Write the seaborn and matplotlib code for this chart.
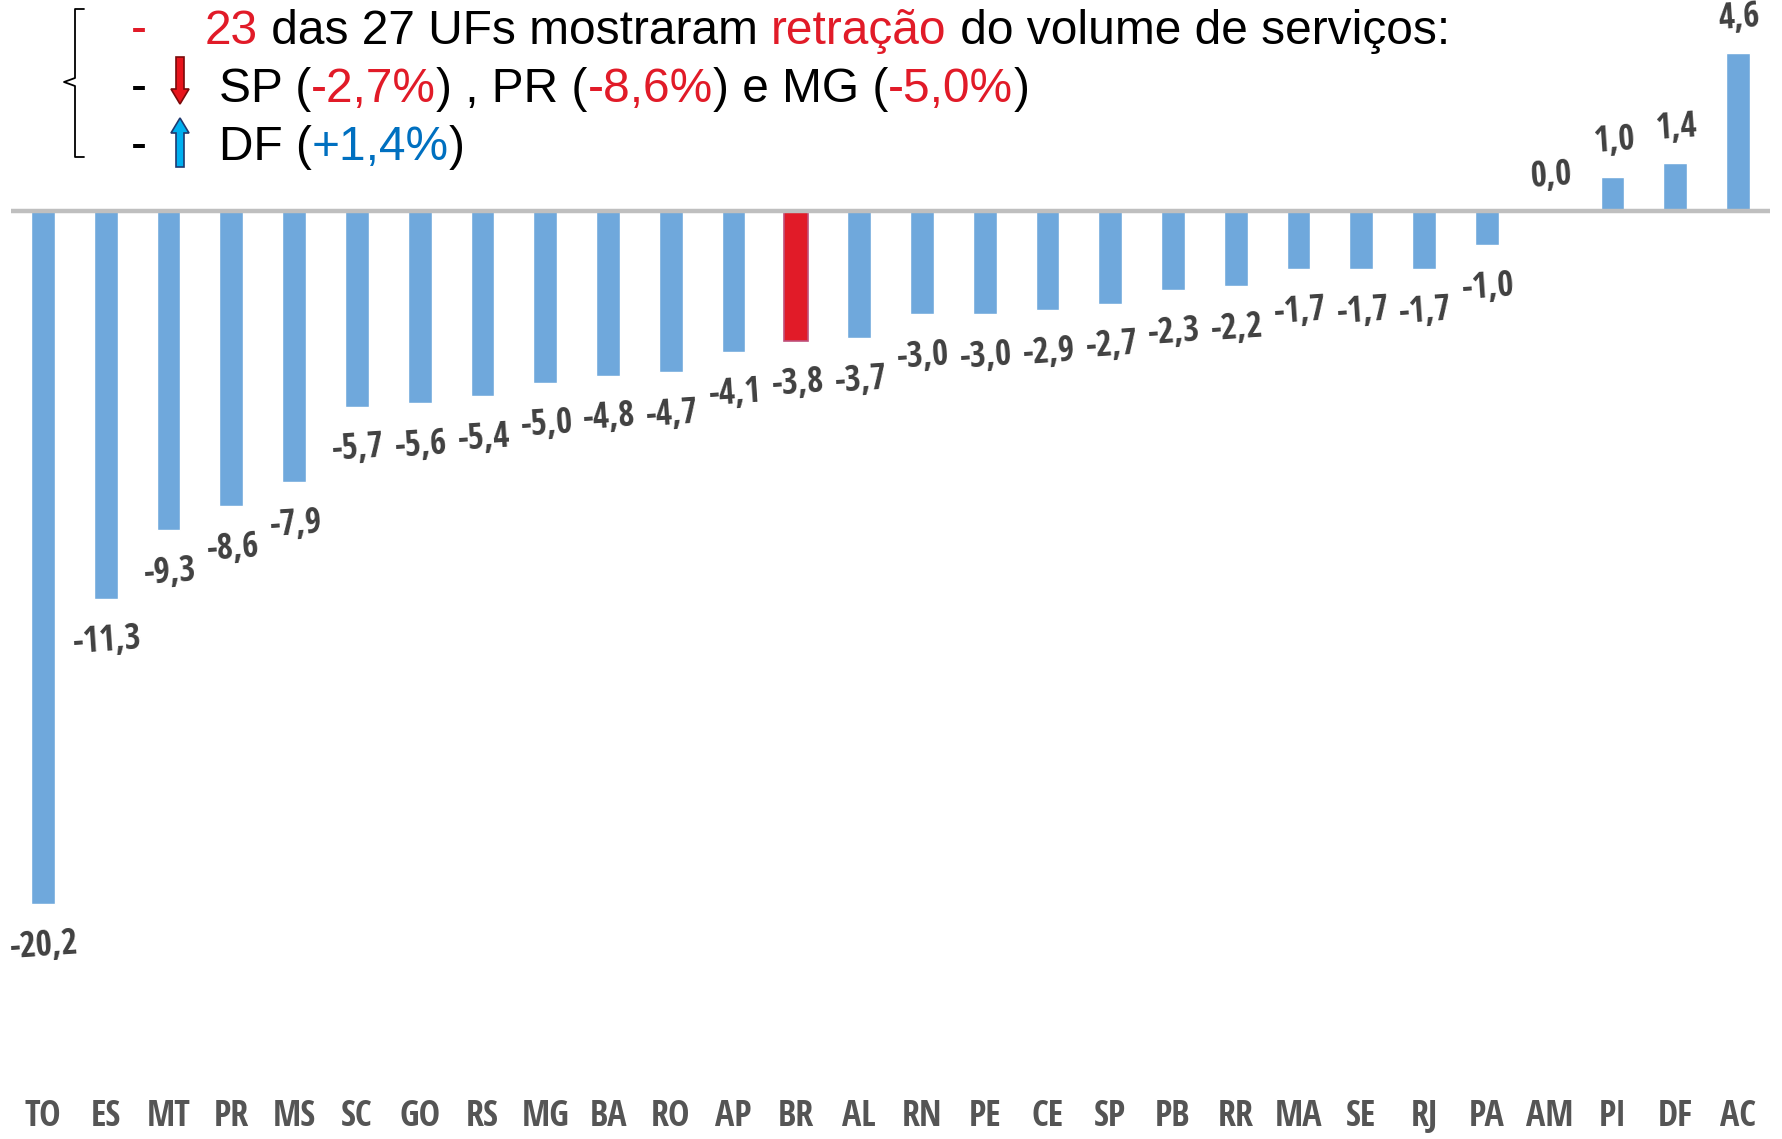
import numpy as np
import seaborn as sns
import matplotlib.pyplot as plt
from matplotlib.lines import Line2D
from matplotlib.patches import Polygon
from matplotlib import font_manager

states = ["TO", "ES", "MT", "PR", "MS", "SC", "GO", "RS", "MG", "BA", "RO", "AP", "BR", "AL",
          "RN", "PE", "CE", "SP", "PB", "RR", "MA", "SE", "RJ", "PA", "AM", "PI", "DF", "AC"]
values = [-20.2, -11.3, -9.3, -8.6, -7.9, -5.7, -5.6, -5.4, -5.0, -4.8, -4.7, -4.1, -3.8, -3.7,
          -3.0, -3.0, -2.9, -2.7, -2.3, -2.2, -1.7, -1.7, -1.7, -1.0, 0.0, 1.0, 1.4, 4.6]
highlight = "BR"

BLUE = "#6FA8DC"
RED = "#E11B28"
W, H = 1782, 1139

sns.set_style("white")
plt.rcParams["font.family"] = ["Liberation Sans", "DejaVu Sans"]

# look for a narrow bold face for the data labels
names = {f.name for f in font_manager.fontManager.ttflist}
narrow = None
for cand in ["Liberation Sans Narrow", "DejaVu Sans Condensed", "Open Sans Condensed", "Roboto Condensed"]:
    if cand in names:
        narrow = cand
        break
cond_fams = [narrow] if narrow else []
cond_fams += ["DejaVu Sans"]

fig = plt.figure(figsize=(W / 100, H / 100), dpi=100)


def fpos(x, y):
    # pixel (from top-left) -> figure fraction
    return x / W, 1 - y / H


ax_left, ax_right = 11, 1770
ax_top, ax_bottom = 0, 1095
ax = fig.add_axes([ax_left / W, 1 - ax_bottom / H, (ax_right - ax_left) / W, (ax_bottom - ax_top) / H])

palette = {s: (RED if s == highlight else BLUE) for s in states}
sns.barplot(x=states, y=values, hue=states, palette=palette, legend=False,
            width=0.38, saturation=1, ax=ax, zorder=2)

for bar, s in zip(ax.patches, states):
    if s == highlight:
        bar.set_edgecolor("#C0507A")
        bar.set_linewidth(1.2)

ax.axhline(0, color="#BFBFBF", lw=3.2, zorder=3)

ppu = 34.3
ax.set_ylim(-(ax_bottom - 211) / ppu, 211 / ppu)
ax.set_xlim(-0.51, len(states) - 0.49)

lab_fs = 25 if narrow else 20
for i, v in enumerate(values):
    lab = f"{v:.1f}".replace(".", ",")
    off = 25 if v >= 0 else -31
    ax.annotate(lab, (i, v), xytext=(1, off), textcoords="offset points",
                ha="center", va="center", fontsize=lab_fs, fontweight="bold",
                family=cond_fams, fontstretch="condensed", color="#404040", rotation=4)

ax.set_yticks([])
ax.set_xlabel("")
ax.tick_params(axis="x", length=0, pad=3)
for t in ax.get_xticklabels():
    t.set_fontfamily(cond_fams)
    t.set_fontstretch("condensed")
    t.set_fontweight("bold")
    t.set_fontsize(lab_fs + 1)
    t.set_color("#555555")
sns.despine(ax=ax, left=True, bottom=True)

# header text with coloured runs
FS = 34.5
lines = [
    (31, [("-", RED)], [("23", RED), (" das 27 UFs mostraram ", "black"), ("retração", RED),
                        (" do volume de serviços:", "black")], 205),
    (89, [("-", "black")], [("SP (", "black"), ("-2,7%", RED), (") , PR (", "black"), ("-8,6%", RED),
                            (") e MG (", "black"), ("-5,0%", RED), (")", "black")], 219),
    (147, [("-", "black")], [("DF (", "black"), ("+1,4%", "#0070C0"), (")", "black")], 219),
]
for y, dash, runs, x0 in lines:
    fig.text(*fpos(139, y), dash[0][0], color=dash[0][1], fontsize=FS, va="center", ha="center")
    prev = fig.text(*fpos(x0, y), runs[0][0], color=runs[0][1], fontsize=FS, va="center", ha="left")
    for s, c in runs[1:]:
        prev = ax.annotate(s, xy=(1, 0), xycoords=prev, va="bottom", ha="left",
                           color=c, fontsize=FS, annotation_clip=False)


def arrow(xc, y_tail, y_head, face, edge):
    sw, hw, hl = 4, 9, 15
    d = 1 if y_head > y_tail else -1
    yb = y_head - d * hl
    pts = [(xc - sw, y_tail), (xc + sw, y_tail), (xc + sw, yb), (xc + hw, yb),
           (xc, y_head), (xc - hw, yb), (xc - sw, yb)]
    fig.add_artist(Polygon([fpos(*p) for p in pts], closed=True, transform=fig.transFigure,
                           facecolor=face, edgecolor=edge, lw=1.2))


arrow(180, 57, 104, "#E8141C", "#7A0A0A")
arrow(180, 167, 118, "#00B0F0", "#1F3A70")

# brace
brace = [(84, 9), (75, 9), (75, 78), (64, 82), (75, 86), (75, 157), (84, 157)]
xs, ys = zip(*[fpos(*p) for p in brace])
fig.add_artist(Line2D(xs, ys, transform=fig.transFigure, color="black", lw=1.3))

fig.savefig("out.png", dpi=100)
